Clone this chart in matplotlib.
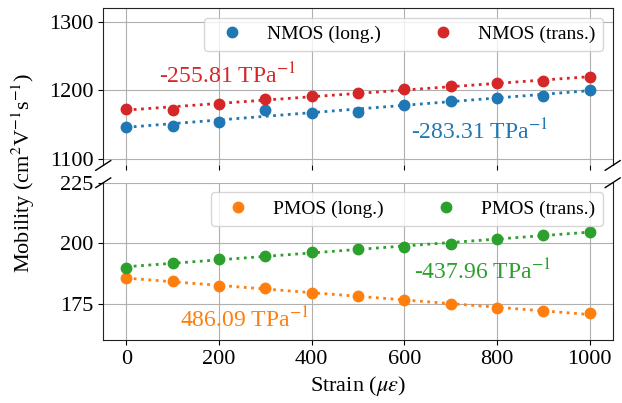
import numpy as np
import matplotlib
matplotlib.use("Agg")
import matplotlib.pyplot as plt

plt.rcParams['font.family'] = ['Liberation Serif', 'DejaVu Serif']
plt.rcParams['mathtext.fontset'] = 'stix'

strain = [0, 100, 200, 300, 400, 500, 600, 700, 800, 900, 1000]
nmos_long = [1145.8, 1148.3, 1153.7, 1171.3, 1166.9, 1167.8, 1178.6, 1184.9, 1188.3, 1192.2, 1200.0]
nmos_trans = [1172.2, 1171.3, 1180.1, 1187.8, 1191.8, 1195.2, 1202.0, 1205.9, 1209.8, 1213.2, 1219.0]
pmos_long = [185.6, 184.3, 182.5, 181.4, 179.5, 178.1, 176.4, 175.0, 173.2, 172.0, 171.1]
pmos_trans = [189.8, 192.0, 193.5, 194.7, 196.3, 197.5, 198.5, 199.9, 201.7, 203.5, 204.6]

labels_top = ["NMOS (long.)", "NMOS (trans.)"]
labels_bot = ["PMOS (long.)", "PMOS (trans.)"]
ann_top = ["-283.31 TPa$^{-1}$", "-255.81 TPa$^{-1}$"]
ann_bot = ["486.09 TPa$^{-1}$", "-437.96 TPa$^{-1}$"]

c_blue, c_orange, c_green, c_red = "#1f77b4", "#ff7f0e", "#2ca02c", "#d62728"

fig, (ax1, ax2) = plt.subplots(2, 1, sharex=True, figsize=(6.22, 4.03), dpi=100)
fig.subplots_adjust(left=0.166, right=0.985, top=0.980, bottom=0.156, hspace=0.11)

x = np.array(strain)

def draw(ax, y, color, label):
    y = np.array(y)
    p = np.polyfit(x, y, 1)
    ax.plot(x, np.polyval(p, x), ':', color=color, lw=2, zorder=2)
    ax.plot(x, y, 'o', color=color, ms=7.5, label=label, zorder=3)

draw(ax1, nmos_long, c_blue, labels_top[0])
draw(ax1, nmos_trans, c_red, labels_top[1])
draw(ax2, pmos_long, c_orange, labels_bot[0])
draw(ax2, pmos_trans, c_green, labels_bot[1])

ax1.set_ylim(1090, 1320)
ax1.set_yticks([1100, 1200, 1300])
ax2.set_ylim(160, 225)
ax2.set_yticks([175, 200, 225])
ax2.set_xlim(-50, 1050)
ax2.set_xticks([0, 200, 400, 600, 800, 1000])

for ax in (ax1, ax2):
    ax.grid(True, color='#b0b0b0', lw=0.8)
    ax.set_axisbelow(True)
    ax.tick_params(labelsize=16)
    for s in ax.spines.values():
        s.set_color('#222222')

ax1.spines['bottom'].set_visible(False)
ax2.spines['top'].set_visible(False)
ax1.tick_params(bottom=True, labelbottom=False)
ax2.tick_params(top=False)

# break marks
d = .012
kw = dict(transform=fig.transFigure, color='k', clip_on=False, lw=1)
b1 = ax1.get_position()
b2 = ax2.get_position()
for xx in (b1.x0, b1.x1):
    fig.add_artist(plt.Line2D([xx - d, xx + d], [b1.y0 - d, b1.y0 + d], **kw))
    fig.add_artist(plt.Line2D([xx - d, xx + d], [b2.y1 - d, b2.y1 + d], **kw))

ax1.legend(loc='upper right', ncol=2, fontsize=14, framealpha=0.8,
           handletextpad=0.8, columnspacing=2.2, borderpad=0.4)
ax2.legend(loc='upper right', ncol=2, fontsize=14, framealpha=0.8,
           handletextpad=0.8, columnspacing=2.2, borderpad=0.4)

ax1.text(218, 1221, ann_top[1], color=c_red, fontsize=17, ha='center', va='center')
ax1.text(762, 1139, ann_top[0], color=c_blue, fontsize=17, ha='center', va='center')
ax2.text(769, 188.3, ann_bot[1], color=c_green, fontsize=17, ha='center', va='center')
ax2.text(255, 168.4, ann_bot[0], color=c_orange, fontsize=17, ha='center', va='center')

ax2.set_xlabel(r"Strain ($\mu\varepsilon$)", fontsize=16)
fig.text(0.037, 0.57, r"Mobility (cm$^2$V$^{-1}$s$^{-1}$)", rotation=90,
         fontsize=16, ha='center', va='center')

fig.savefig("out.png", dpi=100)
